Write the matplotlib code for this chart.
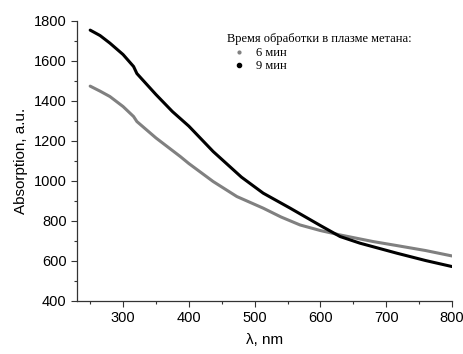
import matplotlib.pyplot as plt
from matplotlib.ticker import MultipleLocator
from matplotlib.lines import Line2D

# spectra
wl_6 = [250, 265, 280, 300, 316, 321, 350, 387, 400, 437, 473, 513, 540, 569,
        600, 630, 680, 716, 760, 800]
abs_6 = [1472, 1447, 1420, 1370, 1320, 1295, 1213, 1120, 1085, 995, 920, 862, 818, 778,
         750, 728, 695, 675, 650, 623]

wl_9 = [250, 265, 280, 300, 316, 321, 350, 375, 400, 437, 480, 513, 554, 600,
        630, 660, 716, 760, 800]
abs_9 = [1752, 1725, 1687, 1630, 1570, 1535, 1430, 1345, 1272, 1145, 1017, 937, 862, 775,
         720, 687, 637, 600, 570]

labels = ['6 мин', '9 мин']
legend_title = 'Время обработки в плазме метана:'

plt.rcParams['font.family'] = ['Liberation Sans', 'DejaVu Sans']

fig = plt.figure(figsize=(4.64, 3.54), dpi=100)
ax = fig.add_axes([0.166, 0.151, 0.808, 0.791])

ax.plot(wl_6, abs_6, color='#808080', lw=2.2, solid_capstyle='round', solid_joinstyle='round')
ax.plot(wl_9, abs_9, color='black', lw=2.2, solid_capstyle='round', solid_joinstyle='round')

ax.set_xlim(230, 800)
ax.set_ylim(400, 1800)
ax.xaxis.set_major_locator(MultipleLocator(100))
ax.xaxis.set_minor_locator(MultipleLocator(50))
ax.yaxis.set_major_locator(MultipleLocator(200))
ax.yaxis.set_minor_locator(MultipleLocator(100))
ax.tick_params(which='major', direction='out', length=4, width=0.8, labelsize=10.5, color='#333333')
ax.tick_params(which='minor', direction='out', length=2.5, width=0.8, color='#333333')
for s in ['top', 'right']:
    ax.spines[s].set_visible(False)
for s in ['left', 'bottom']:
    ax.spines[s].set_color('#333333')
    ax.spines[s].set_linewidth(0.9)

ax.set_xlabel('λ, nm', fontsize=11, labelpad=6)
ax.set_ylabel('Absorption, a.u.', fontsize=11)

handles = [Line2D([], [], ls='none', marker='o', ms=2, color='#808080'),
           Line2D([], [], ls='none', marker='o', ms=3, color='black')]
leg = ax.legend(handles, labels, title=legend_title, loc='upper left',
                bbox_to_anchor=(0.378, 0.985), frameon=False, alignment='left',
                prop={'family': 'Liberation Serif', 'size': 9},
                title_fontproperties={'family': 'Liberation Serif', 'size': 9},
                handletextpad=0.4, labelspacing=0.12, borderpad=0.2,
                handlelength=1.9)

fig.savefig('out.png', dpi=100)
